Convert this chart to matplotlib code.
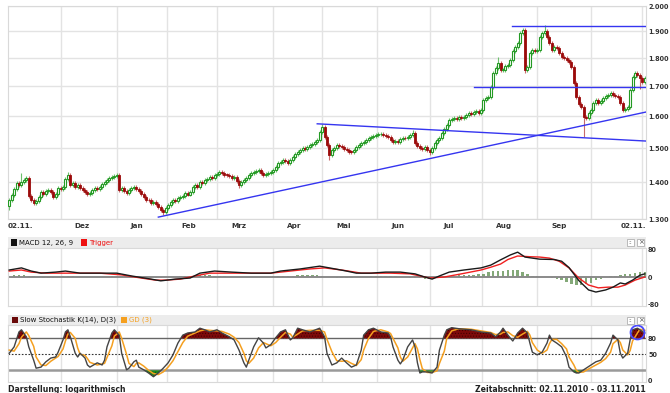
import numpy as np
import matplotlib
matplotlib.use("Agg")
import matplotlib.pyplot as plt
from matplotlib.patches import Rectangle

# ---------------- data ----------------
closes = [
    1.351, 1.365, 1.380, 1.398, 1.392, 1.400, 1.407, 1.412, 1.362, 1.350,
    1.342, 1.348, 1.360, 1.372, 1.368, 1.375, 1.378, 1.373, 1.359, 1.368,
    1.384, 1.380, 1.386, 1.410, 1.420, 1.393, 1.398, 1.387, 1.392, 1.385,
    1.378, 1.373, 1.368, 1.370, 1.378, 1.384, 1.380, 1.388, 1.396, 1.400,
    1.407, 1.412, 1.415, 1.418, 1.422, 1.379, 1.385, 1.376, 1.370, 1.378,
    1.384, 1.388, 1.382, 1.376, 1.368, 1.359, 1.352, 1.350, 1.342, 1.345,
    1.340, 1.332, 1.325, 1.318, 1.330, 1.337, 1.346, 1.351, 1.349, 1.356,
    1.359, 1.362, 1.370, 1.366, 1.372, 1.387, 1.392, 1.388, 1.401, 1.398,
    1.407, 1.410, 1.415, 1.412, 1.420, 1.424, 1.429, 1.426, 1.422, 1.421,
    1.418, 1.412, 1.415, 1.405, 1.392, 1.400, 1.407, 1.412, 1.420, 1.426,
    1.430, 1.433, 1.435, 1.428, 1.421, 1.424, 1.426, 1.430, 1.435, 1.445,
    1.456, 1.460, 1.465, 1.462, 1.456, 1.466, 1.474, 1.482, 1.489, 1.495,
    1.501, 1.498, 1.504, 1.510, 1.514, 1.518, 1.525, 1.550, 1.566, 1.535,
    1.510, 1.480, 1.495, 1.500, 1.510, 1.506, 1.504, 1.498, 1.495, 1.490,
    1.489, 1.496, 1.504, 1.510, 1.515, 1.519, 1.526, 1.532, 1.535, 1.538,
    1.541, 1.543, 1.544, 1.540, 1.538, 1.535, 1.525, 1.520, 1.522, 1.519,
    1.528, 1.532, 1.530, 1.535, 1.540, 1.547, 1.516, 1.508, 1.501, 1.498,
    1.504, 1.496, 1.489, 1.500, 1.516, 1.525, 1.532, 1.547, 1.560, 1.572,
    1.588, 1.592, 1.595, 1.590, 1.598, 1.596, 1.598, 1.605, 1.611, 1.609,
    1.614, 1.618, 1.612, 1.621, 1.654, 1.660, 1.664, 1.698, 1.747, 1.765,
    1.782, 1.757, 1.757, 1.770, 1.776, 1.793, 1.825, 1.840, 1.856, 1.894,
    1.905, 1.757, 1.768, 1.819, 1.830, 1.825, 1.830, 1.879, 1.894, 1.900,
    1.879, 1.856, 1.830, 1.840, 1.837, 1.819, 1.805, 1.800, 1.793, 1.786,
    1.768, 1.711, 1.664, 1.640, 1.631, 1.598, 1.595, 1.610, 1.621, 1.644,
    1.654, 1.644, 1.650, 1.660, 1.668, 1.671, 1.677, 1.671, 1.668, 1.664,
    1.644, 1.621, 1.625, 1.631, 1.688, 1.733, 1.747, 1.740, 1.729, 1.715,
    1.729,
]
first_open = 1.335
spike_high = {5: 1.426, 24: 1.430, 44: 1.426, 128: 1.576, 165: 1.556,
              200: 1.804, 210: 1.912, 219: 1.925}
spike_low = {0: 1.324, 63: 1.311, 94: 1.384, 131: 1.465, 172: 1.480,
             211: 1.747, 235: 1.535, 258: 1.690}

# trend lines drawn on the price chart: (start_day, start_price, end_day, end_price)
trend_lines = [
    (61, 1.305, 260.5, 1.614),
    (126, 1.576, 260.5, 1.522),
    (190, 1.698, 260.5, 1.698),
    (205.5, 1.922, 260.5, 1.922),
]

price_ticks = [1.3, 1.4, 1.5, 1.6, 1.7, 1.8, 1.9, 2.0]
price_labels = ["1.300", "1.400", "1.500", "1.600", "1.700", "1.800", "1.900", "2.000"]

month_pos = [21, 44, 64.5, 85, 108, 128, 150.5, 172, 193.5, 216, 238, 259]
month_names = ["Dez", "Jan", "Feb", "Mrz", "Apr", "Mai", "Jun", "Jul", "Aug", "Sep"]
start_label = "02.11."
end_label = "02.11."

macd_idx = [0, 5, 9, 13, 19, 23, 29, 37, 44, 50, 58, 62, 68, 74, 78, 84, 91, 99, 107,
            111, 119, 127, 131, 138, 142, 148, 154, 160, 166, 170, 173, 176, 180, 186,
            193, 197, 201, 205, 208, 211, 217, 223, 226, 229, 233, 237, 240, 244, 247,
            250, 252, 255, 258, 260]
macd_val = [20, 26, 17, 11, 14, 17, 11, 11, 11, 3, -6, -11, -6, -3, 11, 17, 14, 11, 11,
            17, 23, 31, 26, 17, 11, 11, 14, 14, 9, 0, -6, 3, 14, 20,
            26, 34, 49, 63, 71, 57, 51, 50, 45, 27, -10, -37, -43, -37, -29,
            -17, -20, -9, 5, 9]
trig_idx = [0, 5, 9, 15, 23, 37, 46, 54, 60, 64, 70, 76, 82, 95, 107, 115, 123, 129,
            136, 144, 156, 164, 172, 178, 185, 193, 197, 201, 204, 208, 213, 217, 221,
            225, 229, 233, 237, 241, 245, 249, 252, 256, 260]
trig_val = [17, 20, 14, 11, 11, 11, 6, -3, -9, -9, -6, 3, 11, 11, 11, 17, 23, 26,
            20, 11, 11, 9, -3, 0, 9, 20, 28, 37, 50, 60, 58, 57, 54,
            45, 26, -3, -23, -31, -29, -29, -23, -9, 0]
hist_val = [3, 5, 6, 5, 4, 2, 0, -2, -3, -2,
            0, 2, 3, 2, 0, -1, -1, 0, 0, 0,
            1, 2, 3, 2, 0, -2, -3, -4, -4, -3,
            -3, -2, -1, 0, 1, 2, 3, 4, 5, 5,
            5, 5, 4, 3, 2, 1, 1, 0, 0, 1,
            1, 1, 0, 1, 2, 3, 3, 4, 4, 5,
            5, 6, 6, 5, 3, 1, -1, -2, -3, -3,
            -2, -1, 0, 1, 2, 3, 3, 3, 2, 2,
            1, 0, -2, -3, -4, -5, -5, -3, -1, 2,
            3, 4, 5, 6, 6, 7, 8, 10, 14, 17,
            17, 18, 20, 20, 19, 14, 8, 4, 2, 1,
            1, -2, -5, -9, -14, -19, -22, -23, -21, -16,
            -10, -5, -1, 2, 4, 6, 8, 10, 12, 14,
            15]

stoch_idx = [0, 2, 4, 5, 7, 8, 10, 11, 13, 15, 17, 19, 20, 22, 23, 24, 25, 27, 28, 29,
             31, 32, 33, 36, 38, 39, 40, 42, 43, 45, 46, 48, 49, 51, 52, 53, 55, 57, 59,
             61, 63, 65, 67, 69, 71, 73, 76, 78, 80, 82, 85, 87, 90, 92, 94, 96, 97, 98,
             100, 102, 104, 105, 107, 109, 111, 113, 115, 116, 118, 120, 123, 127, 129,
             130, 132, 134, 136, 138, 140, 142, 144, 145, 147, 149, 152, 155, 156, 157,
             159, 160, 161, 163, 165, 166, 167, 168, 169, 171, 173, 175, 176, 178, 179,
             181, 184, 189, 193, 197, 199, 201, 202, 204, 206, 208, 210, 212, 213, 214,
             216, 218, 220, 221, 222, 224, 226, 228, 229, 231, 232, 233, 235, 236, 238,
             240, 242, 244, 246, 247, 249, 250, 251, 253, 254, 255, 257, 258, 260]
stoch_k = [52, 64, 92, 96, 83, 64, 39, 24, 26, 36, 43, 45, 54, 77, 92, 96, 83, 52, 45, 52,
           43, 30, 26, 34, 30, 39, 64, 90, 96, 86, 52, 21, 24, 36, 39, 26, 21, 15, 8,
           15, 24, 34, 49, 71, 86, 90, 92, 99, 96, 92, 96, 90, 83, 77, 58, 34, 26, 39,
           64, 81, 71, 62, 68, 81, 92, 96, 77, 81, 99, 96, 92, 99, 83,
           52, 30, 34, 43, 34, 26, 30, 58, 86, 96, 99, 92, 90, 83, 64,
           39, 32, 39, 64, 77, 64, 34, 15, 17, 17, 15, 26, 58, 86, 96,
           100, 98, 96, 92, 90, 83, 92, 99, 86, 75, 90, 99, 90, 71, 54,
           49, 54, 71, 86, 77, 71, 64, 45, 26, 17, 15, 15, 21, 24, 30,
           36, 39, 52, 71, 86, 77, 52, 43, 52, 77, 96, 99, 96, 90]
stoch_d = [58, 56, 70, 82, 92, 85, 65, 45, 30, 29, 37, 43, 46, 60, 75, 88, 91, 80, 62, 50,
           48, 42, 35, 30, 32, 33, 44, 66, 84, 92, 80, 50, 33, 27, 33, 34, 28, 20, 14,
           12, 17, 26, 38, 55, 72, 84, 90, 94, 96, 95, 94, 93, 88, 82, 72, 52, 38, 33,
           43, 62, 72, 70, 66, 72, 82, 91, 88, 82, 88, 94, 95, 95, 92,
           78, 55, 38, 37, 38, 33, 29, 40, 58, 80, 93, 96, 92, 89, 80,
           62, 45, 37, 45, 62, 70, 60, 40, 23, 16, 16, 19, 33, 56, 80,
           94, 98, 97, 94, 91, 87, 88, 91, 92, 85, 82, 88, 93, 86, 72,
           58, 52, 58, 70, 78, 78, 70, 60, 45, 30, 20, 16, 17, 20, 25,
           30, 35, 42, 54, 70, 78, 72, 58, 49, 57, 75, 90, 97, 95]
stoch_mark = (257, 92)

# ---------------- figure ----------------
W, H = 670, 393
fig = plt.figure(figsize=(W / 100, H / 100), dpi=100)
fig.patch.set_facecolor("white")


def rect(x0, y0, x1, y1):
    return [x0 / W, 1 - y1 / H, (x1 - x0) / W, (y1 - y0) / H]


GRID = "#e3e3e3"
LBL = "#333333"
BLUE = "#3535f0"
XL = (-0.5, 260.5)
FS = 5.2
YFS = 4.7


def style_panel(ax):
    for s in ax.spines.values():
        s.set_color("#d9d9d9")
        s.set_linewidth(0.8)
    ax.set_xlim(*XL)
    ax.set_xticks([])
    ax.tick_params(axis="y", length=0, pad=1.5, labelsize=YFS, labelcolor=LBL)
    ax.yaxis.tick_right()
    for m in month_pos:
        ax.axvline(m, color=GRID, lw=1, zorder=0)


# ---- main price chart ----
ax = fig.add_axes(rect(8, 6, 646, 219))
ax.set_yscale("log")
ax.set_ylim(1.3, 2.0)
style_panel(ax)
ax.set_yticks(price_ticks)
ax.set_yticklabels(price_labels, fontweight="bold")
ax.yaxis.set_minor_locator(matplotlib.ticker.NullLocator())
for p in price_ticks:
    ax.axhline(p, color=GRID, lw=1, zorder=0)

opens = [first_open] + closes[:-1]
for i, (o, c) in enumerate(zip(opens, closes)):
    hi = spike_high.get(i, max(o, c) * 1.004)
    lo = spike_low.get(i, min(o, c) / 1.004)
    up = c >= o
    wick = "#6cbf6c" if up else "#c86a6a"
    ax.vlines(i, lo, hi, color=wick, lw=0.8, zorder=2)
    b0, b1 = min(o, c), max(o, c)
    if b1 / b0 < 1.0015:
        b1 = b0 * 1.0015
    if up:
        ax.add_patch(Rectangle((i - 0.4, b0), 0.8, b1 - b0, facecolor="white",
                               edgecolor="#249a24", lw=0.8, zorder=3))
    else:
        ax.add_patch(Rectangle((i - 0.4, b0), 0.8, b1 - b0, facecolor="#9b0a0a",
                               edgecolor="#9b0a0a", lw=0.6, zorder=3))

for x0, p0, x1, p1 in trend_lines:
    ax.plot([x0, x1], [p0, p1], color=BLUE, lw=1.0, zorder=4)

# x labels under price chart
ty = 1 - 226 / H
fig.text(8 / W, ty, start_label, fontsize=FS, fontweight="bold", color=LBL,
         ha="left", va="center")
for m, name in zip(month_pos, month_names):
    xpix = 8 + (m + 0.5) * (638 / 261) + 14
    fig.text(xpix / W, ty, name, fontsize=FS, fontweight="bold", color=LBL,
             ha="left", va="center")
fig.text(646 / W, ty, end_label, fontsize=FS, fontweight="bold", color=LBL,
         ha="right", va="center")


def header(y0, y1, items):
    hax = fig.add_axes(rect(8, y0, 646, y1))
    hax.set_xlim(0, 638)
    hax.set_ylim(0, 1)
    hax.axis("off")
    hax.add_patch(Rectangle((0, 0), 638, 1, facecolor="#ececec", edgecolor="none"))
    for xs, col, txt, tcol in items:
        hax.add_patch(Rectangle((xs, 0.2), 6, 0.6, facecolor=col, edgecolor="none"))
        hax.text(xs + 8, 0.48, txt, fontsize=5.0, color=tcol, va="center", ha="left")
    for bx in (619, 629):
        hax.add_patch(Rectangle((bx, 0.15), 7, 0.7, facecolor="white",
                                edgecolor="#b0b0b0", lw=0.6))
    hax.text(622.5, 0.5, "::", fontsize=4, ha="center", va="center", color="#555")
    hax.text(632.5, 0.5, "×", fontsize=5, ha="center", va="center", color="#555")


# ---- MACD ----
header(237, 248, [(3, "#111111", "MACD 12, 26, 9", "#111111"),
                  (73, "#ee1111", "Trigger", "#ee1111")])
am = fig.add_axes(rect(8, 248, 646, 306))
am.set_ylim(-82.9, 82.9)
style_panel(am)
am.set_yticks([80, 0, -80])
am.set_yticklabels(["80", "0", "-80"], fontweight="bold")
hist_idx = list(range(0, 261, 2))
am.bar(hist_idx, hist_val, width=1.0, color="#6f9a62", alpha=0.85, zorder=1)
am.axhline(0, color="#8a8a8a", lw=1.4, zorder=2)
am.plot(trig_idx, trig_val, color="#f02020", lw=1.0, zorder=3)
am.plot(macd_idx, macd_val, color="#1a1a1a", lw=1.0, zorder=4)

# ---- Slow Stochastic ----
header(315, 325, [(4, "#6a0a0a", "Slow Stochastik K(14), D(3)", "#111111"),
                  (113, "#f5a020", "GD (3)", "#f5a020")])
ast = fig.add_axes(rect(8, 325, 646, 382))
ast.set_ylim(-1.9, 105)
style_panel(ast)
ast.set_yticks([80, 50, 0])
ast.set_yticklabels(["80", "50", "0"], fontweight="bold")
k = np.array(stoch_k, dtype=float)
xi = np.array(stoch_idx, dtype=float)
plt.rcParams["hatch.linewidth"] = 0.4
ast.fill_between(xi, k, 80, where=k >= 80, interpolate=True, facecolor="#7d0a0a",
                 edgecolor="#3d0000", hatch="......", lw=0, zorder=2)
ast.fill_between(xi, k, 20, where=k <= 20, interpolate=True, facecolor="#1f8a1f",
                 edgecolor="#0f4f0f", hatch="......", lw=0, zorder=2)
ast.axhline(80, color="#666666", lw=1.0, zorder=1)
ast.axhline(20, color="#9a9a9a", lw=1.8, zorder=1)
ast.axhline(50, color="#333333", lw=0.8, ls=(0, (1.5, 1.5)), zorder=1)
ast.plot(xi, stoch_d, color="#f5a020", lw=1.1, zorder=3)
ast.plot(xi, k, color="#444444", lw=1.0, zorder=4)
ast.plot([stoch_mark[0]], [stoch_mark[1]], marker="o", ms=10, mfc="none",
         mec="#4a4aff", mew=1.3, zorder=5)

# ---- footer ----
fy = 1 - 389 / H
fig.text(8 / W, fy, "Darstellung: logarithmisch", fontsize=5.6, fontweight="bold",
         color="#222222", ha="left", va="center")
fig.text(646 / W, fy, "Zeitabschnitt: 02.11.2010 - 03.11.2011", fontsize=5.6,
         fontweight="bold", color="#222222", ha="right", va="center")

fig.savefig("out.png", dpi=100, facecolor="white")
